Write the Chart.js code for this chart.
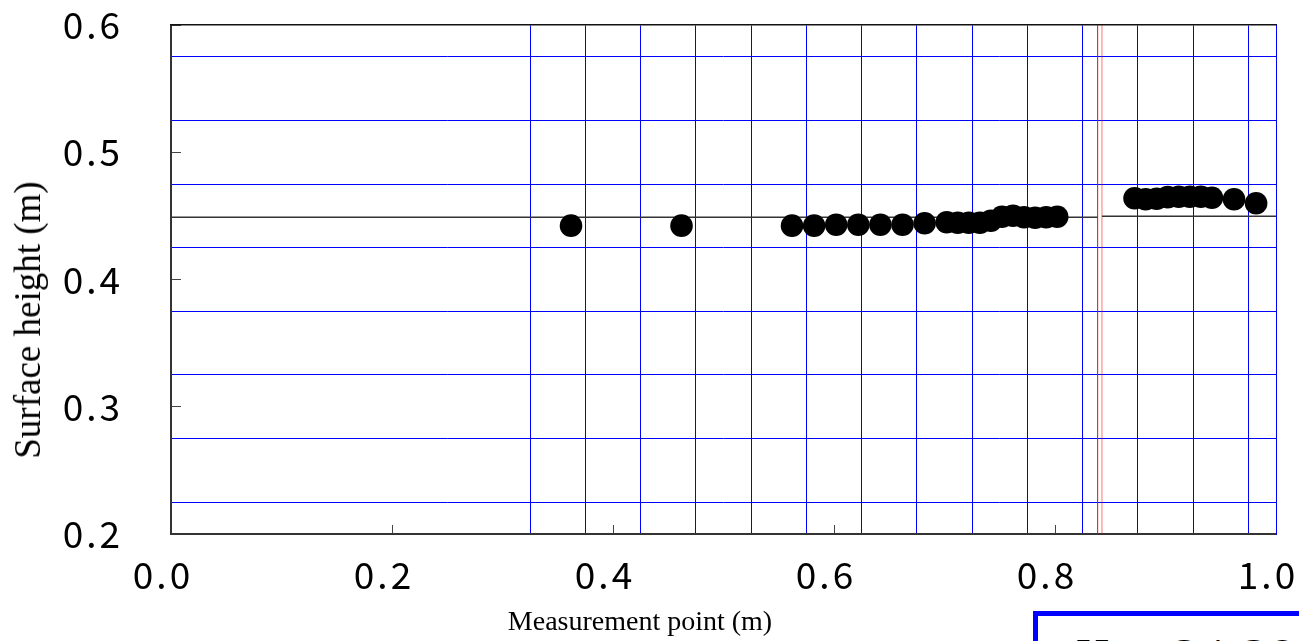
<!DOCTYPE html>
<html>
<head>
<meta charset="utf-8">
<script src="https://cdn.jsdelivr.net/npm/chart.js@4.4.0/dist/chart.umd.min.js"></script>
<style>
    html, body { margin: 0; padding: 0; background: #fff; overflow: hidden; }
    #wrap { position: relative; width: 1299px; height: 641px; }
    #surfaceChart { position: absolute; left: 0; top: 0; }
    .axisTitle {
        position: absolute;
        font-family: "Liberation Serif", "Times New Roman", serif;
        color: #000;
        white-space: nowrap;
    }
    #xTitle { left: 640px; top: 621px; font-size: 28px; line-height: 32px; transform: translate(-50%, -50%); }
    #yTitle { left: 28px; top: 320px; font-size: 37px; line-height: 40px; transform: translate(-50%, -50%) rotate(-90deg); }
    #hBox {
        position: absolute;
        left: 1033px;
        top: 611px;
        width: 400px;
        height: 100px;
        box-sizing: border-box;
        border: 5px solid #0000ff;
        background: #fff;
    }
    #hBox span {
        position: absolute;
        left: 38px;
        top: 17px;
        font-family: "Liberation Serif", "Times New Roman", serif;
        font-size: 46px;
        line-height: 46px;
        letter-spacing: 4px;
        white-space: nowrap;
    }
</style>
</head>
<body>
<div id="wrap">
    <canvas id="surfaceChart" width="1299" height="641"></canvas>
    <div class="axisTitle" id="xTitle">Measurement point (m)</div>
    <div class="axisTitle" id="yTitle">Surface height (m)</div>
    <div id="hBox"><span>H = 34.38</span></div>
</div>

<script>
//**** values

// measured surface points
var pointX = [0.362, 0.462, 0.562, 0.582, 0.602, 0.622, 0.642, 0.662, 0.682,
              0.702, 0.712, 0.722, 0.732, 0.742, 0.752, 0.762, 0.772, 0.782, 0.792, 0.802,
              0.872, 0.882, 0.892, 0.902, 0.912, 0.922, 0.932, 0.942, 0.962, 0.982];
var pointY = [0.4423, 0.4423, 0.4423, 0.4423, 0.4430, 0.4430, 0.4430, 0.4430, 0.4442,
              0.4450, 0.4446, 0.4446, 0.4446, 0.4462, 0.4493, 0.4501, 0.4489, 0.4485, 0.4489, 0.4493,
              0.4639, 0.4631, 0.4635, 0.4647, 0.4650, 0.4650, 0.4650, 0.4643, 0.4631, 0.4599];

// still water level, left and right of the red marker
var levelX = [0, 0.8386, 0.8425, 1.0];
var levelY = [0.449, 0.4497];

// red marker lines
var markerX = [0.8386, 0.8425];

// axis ticks and the blue grid
var xTicks = [0, 0.2, 0.4, 0.6, 0.8, 1.0];
var yTicks = [0.2, 0.3, 0.4, 0.5, 0.6];
var xGridLines = [0.325, 0.375, 0.425, 0.475, 0.525, 0.575, 0.625, 0.675, 0.725,
                  0.775, 0.825, 0.875, 0.925, 0.975, 1.0];
var yGridLines = [0.225, 0.275, 0.325, 0.375, 0.425, 0.475, 0.525, 0.575];

var xMin = 0, xMax = 1.0, yMin = 0.2, yMax = 0.6;


function setTicks(list) {
    return function(scale) {
        scale.ticks = list.map(function(v) { return { value: v }; });
    };
}

// fixed axis sizes, and no extra room for labels hanging over the ends
function fixSize(prop, size) {
    return function(s) {
        s[prop] = size;
        s.paddingTop = 0; s.paddingBottom = 0;
        s.paddingLeft = 0; s.paddingRight = 0;
    };
}

// the tick numbers are spaced out a bit in the original ("0. 6")
var spacedTicks = {
    id: 'spacedTicks',
    beforeDraw: function(chart) { chart.ctx.letterSpacing = '3px'; }
};

var tickFont = { family: "'Noto Sans CJK JP', 'Noto Sans', sans-serif", size: 37 };

var points = pointX.map(function(x, i) { return { x: x, y: pointY[i] }; });

var datasets = [{
    label: 'surface',
    data: points,
    pointRadius: 11.3,
    pointBackgroundColor: '#000',
    pointBorderWidth: 0,
    showLine: false
}, {
    label: 'level left',
    data: [{ x: levelX[0], y: levelY[0] }, { x: levelX[1], y: levelY[0] }],
    showLine: true,
    pointRadius: 0,
    borderColor: '#333',
    borderWidth: 1.5
}, {
    label: 'level right',
    data: [{ x: levelX[2], y: levelY[1] }, { x: levelX[3], y: levelY[1] }],
    showLine: true,
    pointRadius: 0,
    borderColor: '#333',
    borderWidth: 1.5
}, {
    label: 'marker 1',
    data: [{ x: markerX[0], y: yMin }, { x: markerX[0], y: yMax }],
    showLine: true,
    pointRadius: 0,
    borderColor: '#ff0000',
    borderWidth: 1
}, {
    label: 'marker 2',
    data: [{ x: markerX[1], y: yMin }, { x: markerX[1], y: yMax }],
    showLine: true,
    pointRadius: 0,
    borderColor: 'rgba(255,0,0,0.55)',
    borderWidth: 1
}];

var surfaceChart = new Chart(document.getElementById('surfaceChart'), {
    type: 'scatter',
    data: { datasets: datasets },
    plugins: [spacedTicks],
    options: {
        responsive: false,
        animation: false,
        devicePixelRatio: 1,
        events: [],
        layout: { padding: 0 },
        plugins: {
            legend: { display: false },
            tooltip: { enabled: false }
        },
        scales: {
            x: {
                type: 'linear',
                position: 'bottom',
                min: xMin, max: xMax,
                afterBuildTicks: setTicks(xTicks),
                afterFit: fixSize('height', 107),
                grid: { drawOnChartArea: false, drawTicks: true, tickLength: -9, color: '#444', lineWidth: 1 },
                border: { color: '#333', width: 2 },
                ticks: {
                    font: tickFont, color: '#000', padding: 28, labelOffset: -8,
                    maxRotation: 0, autoSkip: false,
                    callback: function(v) { return v.toFixed(1); }
                }
            },
            y: {
                type: 'linear',
                position: 'left',
                min: yMin, max: yMax,
                afterBuildTicks: setTicks(yTicks),
                afterFit: fixSize('width', 171),
                grid: { drawOnChartArea: false, drawTicks: true, tickLength: -10, color: '#444', lineWidth: 1 },
                border: { color: '#333', width: 2 },
                ticks: {
                    font: tickFont, color: '#000', padding: 58, autoSkip: false,
                    callback: function(v) { return v.toFixed(1); }
                }
            },
            xGrid: {
                type: 'linear',
                position: 'top',
                min: xMin, max: xMax,
                afterBuildTicks: setTicks(xGridLines),
                afterFit: fixSize('height', 25),
                grid: { color: '#0000ff', lineWidth: 1, drawTicks: false },
                border: { color: '#111', width: 1.5 },
                ticks: { display: false }
            },
            yGrid: {
                type: 'linear',
                position: 'right',
                min: yMin, max: yMax,
                afterBuildTicks: setTicks(yGridLines),
                afterFit: fixSize('width', 23),
                grid: { color: '#0000ff', lineWidth: 1, drawTicks: false },
                border: { color: '#0000ff', width: 1 },
                ticks: { display: false }
            }
        }
    }
});
</script>
</body>
</html>
